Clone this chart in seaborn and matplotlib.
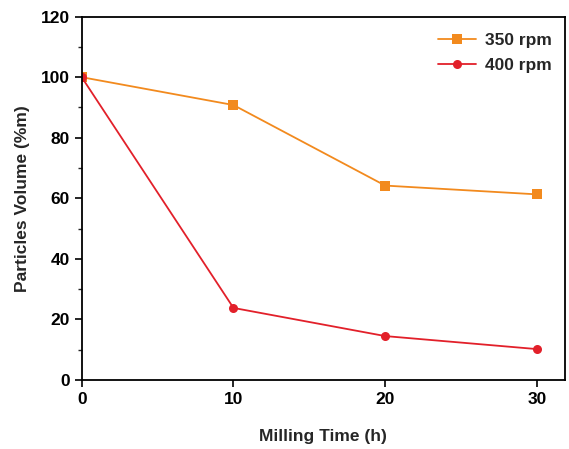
import matplotlib
matplotlib.use("Agg")
import matplotlib.pyplot as plt
import seaborn as sns
import pandas as pd
from matplotlib.ticker import MultipleLocator

time_h = [0, 10, 20, 30]
vol_350 = [100, 90.8, 64.2, 61.3]
vol_400 = [100, 23.8, 14.5, 10.2]
series_names = ["350 rpm", "400 rpm"]

sns.set_theme(style="ticks")
plt.rcParams['font.family'] = ['Liberation Sans', 'DejaVu Sans']
plt.rcParams['font.weight'] = 'bold'

df = pd.DataFrame({
    "time": time_h * 2,
    "vol": vol_350 + vol_400,
    "series": [series_names[0]] * 4 + [series_names[1]] * 4,
})

fig = plt.figure(figsize=(5.69, 4.49), dpi=100)
ax = fig.add_axes([0.1436, 0.1537, 0.993 - 0.1436, 0.963 - 0.1537])
palette = {"350 rpm": "#F28A1E", "400 rpm": "#E2202A"}
sns.lineplot(data=df, x="time", y="vol", hue="series", style="series",
             markers={"350 rpm": "s", "400 rpm": "o"}, dashes=False,
             palette=palette, markersize=6.5, markeredgewidth=0, linewidth=1.3, ax=ax)

ax.set_xlim(0, 31.85)
ax.set_ylim(0, 120)
ax.xaxis.set_major_locator(MultipleLocator(10))
ax.yaxis.set_major_locator(MultipleLocator(20))
ax.yaxis.set_minor_locator(MultipleLocator(10))
ax.tick_params(axis='both', which='major', direction='out', length=5, width=1.2, labelsize=12.5, colors='black')
ax.tick_params(axis='y', which='minor', direction='out', length=3, width=1.0)
for lbl in ax.get_xticklabels() + ax.get_yticklabels():
    lbl.set_fontweight('bold')
for sp in ax.spines.values():
    sp.set_visible(True)
    sp.set_linewidth(1.3)
    sp.set_color('black')
ax.set_xlabel("Milling Time (h)", fontsize=12.5, fontweight='bold', labelpad=16)
ax.set_ylabel("Particles Volume (%m)", fontsize=12.5, fontweight='bold', labelpad=8)

leg = ax.legend(loc='upper right', bbox_to_anchor=(1.0, 0.99), frameon=False, fontsize=12.5,
                handlelength=2.2, borderaxespad=0.35, handletextpad=0.5, labelspacing=0.55)
fig.savefig("out.png", dpi=100)
